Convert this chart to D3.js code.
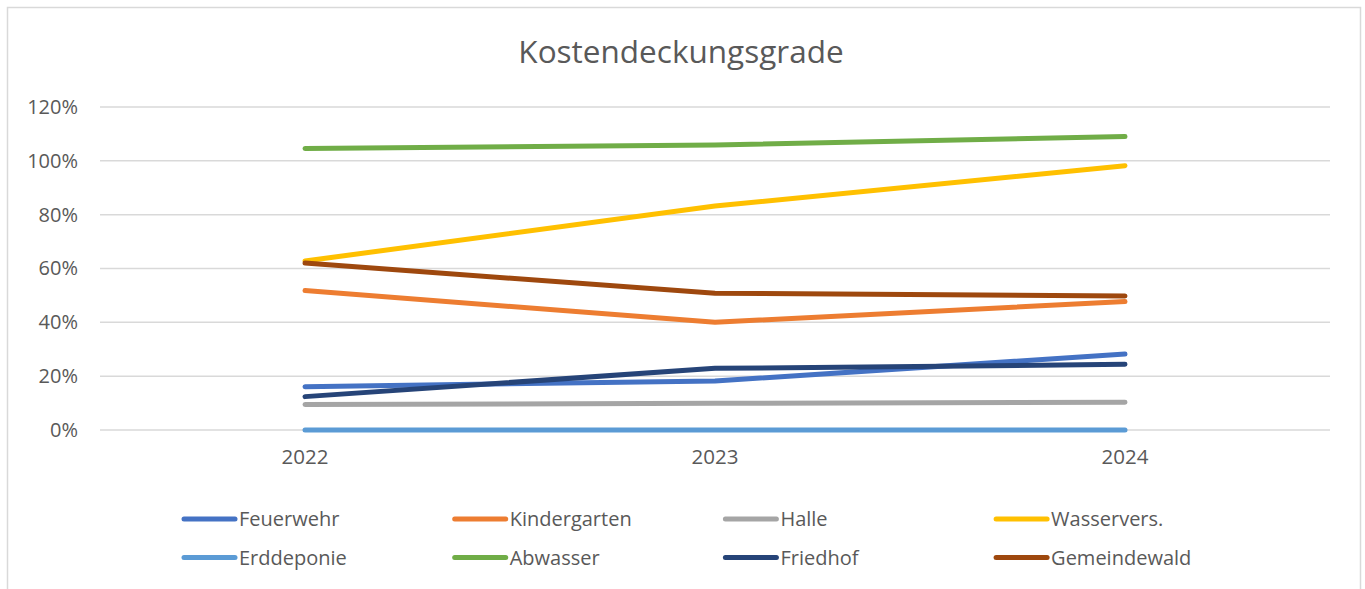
<!DOCTYPE html>
<html>
<head>
<meta charset="utf-8">
<script src="https://cdn.jsdelivr.net/npm/d3@7"></script>
<style>
  body { margin: 0; background: white; }
  text { font-family: 'Open Sans', sans-serif; fill: #595959; }
</style>
</head>
<body>
<script>
//Define data
let years = ['2022', '2023', '2024'];
let seriesNames = ['Feuerwehr', 'Kindergarten', 'Halle', 'Wasservers.', 'Erddeponie', 'Abwasser', 'Friedhof', 'Gemeindewald'];
let feuerwehr    = [0.161, 0.182, 0.282];
let kindergarten = [0.518, 0.400, 0.477];
let halle        = [0.095, 0.099, 0.103];
let wasservers   = [0.628, 0.832, 0.982];
let erddeponie   = [0.000, 0.000, 0.000];
let abwasser     = [1.046, 1.059, 1.090];
let friedhof     = [0.124, 0.229, 0.244];
let gemeindewald = [0.620, 0.508, 0.498];
let yTicks = [0, 0.2, 0.4, 0.6, 0.8, 1.0, 1.2];

let colors = ['#4472C4', '#ED7D31', '#A5A5A5', '#FFC000', '#5B9BD5', '#70AD47', '#264478', '#9E480E'];

let series = [feuerwehr, kindergarten, halle, wasservers, erddeponie, abwasser, friedhof, gemeindewald]
  .map((vals, i) => ({ name: seriesNames[i], color: colors[i], values: vals.map((v, j) => ({ year: years[j], value: v })) }));

let
  width = 1365,
  height = 589;

let svg = d3.select('body')
            .append('svg')
            .attr('width', width)
            .attr('height', height)

//chart frame
svg.append('rect')
  .attr('x', 7.5)
  .attr('y', 7.5)
  .attr('width', 1353)
  .attr('height', 600)
  .attr('fill', 'white')
  .attr('stroke', '#d9d9d9')
  .attr('stroke-width', 1.5)

//Define the scales:
let xScale = d3.scaleBand()
              .domain(years)
              .range([100, 1330])

let yScale = d3.scaleLinear()
              .domain([0, 1.2])
              .range([430, 107])

//gridlines
svg.append('g')
  .selectAll('line')
  .data(yTicks)
  .join('line')
  .attr('x1', 100)
  .attr('x2', 1330)
  .attr('y1', d => yScale(d))
  .attr('y2', d => yScale(d))
  .attr('stroke', '#d9d9d9')
  .attr('stroke-width', 1.5)

//y axis labels
let yAxis = svg.append('g')
              .attr('transform', 'translate(78, 0)')
              .call(d3.axisLeft(yScale).tickValues(yTicks).tickFormat(d3.format('.0%')).tickSize(0).tickPadding(0))
yAxis.select('.domain').remove()
yAxis.selectAll('text')
  .style('font-family', "'Open Sans', sans-serif")
  .style('font-size', '20px')
  .attr('fill', '#595959')

//x axis labels
let xAxis = svg.append('g')
              .attr('transform', 'translate(0, 449)')
              .call(d3.axisBottom(xScale).tickSize(0).tickPadding(0))
xAxis.select('.domain').remove()
xAxis.selectAll('text')
  .style('font-family', "'Open Sans', sans-serif")
  .style('font-size', '20.5px')
  .attr('fill', '#595959')

//Title
svg.append('text')
  .attr('x', 681)
  .attr('y', 63)
  .text('Kostendeckungsgrade')
  .style('text-anchor', 'middle')
  .style('font-size', '31.5px')

//draw the lines
let line = d3.line()
            .x(d => xScale(d.year) + xScale.bandwidth() / 2)
            .y(d => yScale(d.value))

svg.append('g')
  .selectAll('path')
  .data(series)
  .join('path')
  .attr('d', d => line(d.values))
  .attr('stroke', d => d.color)
  .attr('stroke-width', 5)
  .attr('stroke-linecap', 'round')
  .attr('stroke-linejoin', 'round')
  .attr('fill', 'none')

//legend
let legend = svg.append('g')
  .selectAll('g')
  .data(series)
  .join('g')
  .attr('transform', (d, i) => `translate(${184 + (i % 4) * 270.7}, ${519 + Math.floor(i / 4) * 38.5})`)

legend.append('line')
  .attr('x1', 0)
  .attr('x2', 51)
  .attr('stroke', d => d.color)
  .attr('stroke-width', 5)
  .attr('stroke-linecap', 'round')

legend.append('text')
  .attr('x', 55)
  .attr('dy', '0.35em')
  .text(d => d.name)
  .style('font-size', '20px')
</script>
</body>
</html>
